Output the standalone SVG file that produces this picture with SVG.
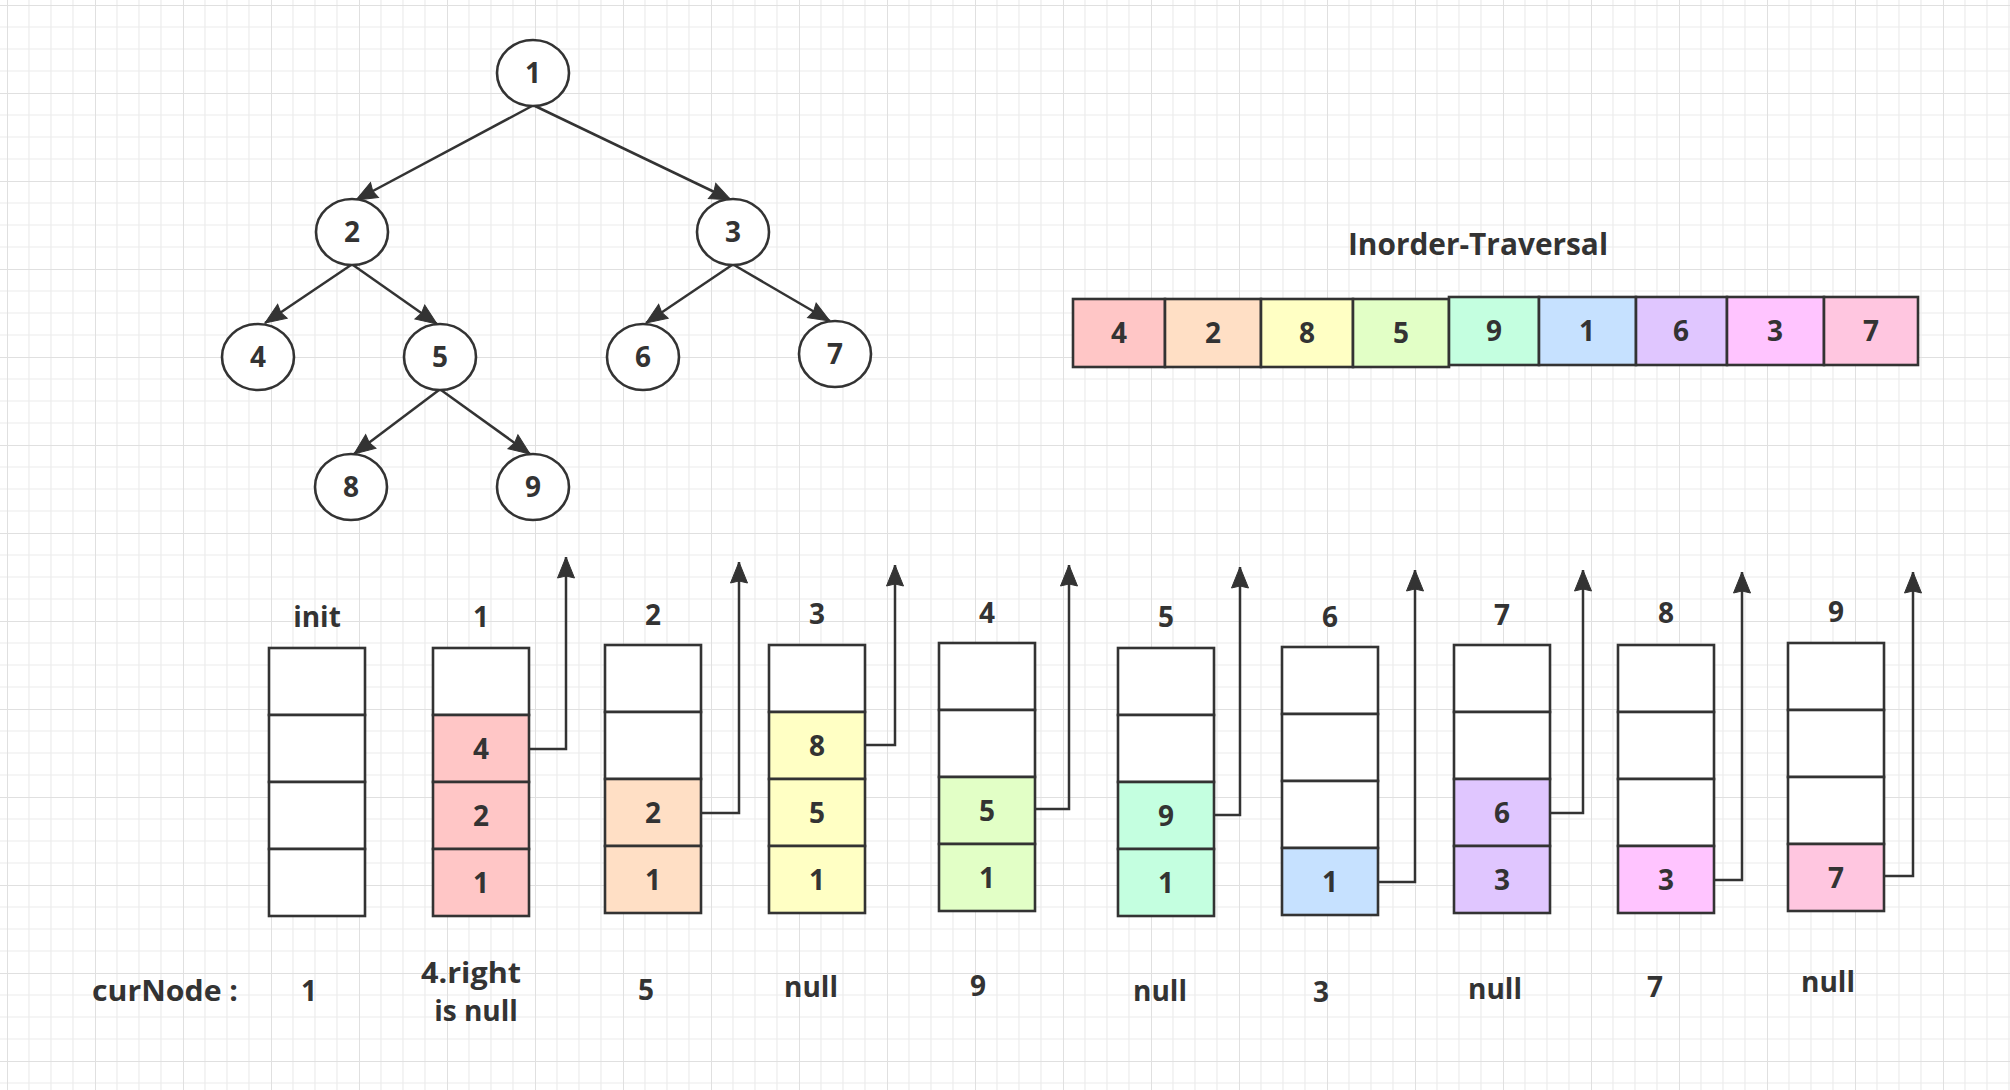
<svg xmlns="http://www.w3.org/2000/svg" width="2010" height="1090" viewBox="0 0 2010 1090">
<style>
.t{font-family:"Open Sans","Noto Sans","Liberation Sans",sans-serif;font-weight:700;font-size:28px;fill:#333;text-anchor:middle}
.ttl{font-size:30px}
.node{fill:#fff;stroke:#333;stroke-width:2.6}
.cell{stroke:#333;stroke-width:2.6}
.edge{fill:none;stroke:#333;stroke-width:2.5}
.w{fill:#fff}.r{fill:#ffc6c6}.p{fill:#ffdfc5}.y{fill:#ffffc4}.g{fill:#e2ffc6}.m{fill:#c4ffe0}.b{fill:#c6e1ff}.l{fill:#e0c6ff}.k{fill:#ffc4ff}.n{fill:#ffc6e0}
</style>
<defs>
<pattern id="grid" x="7" y="5" width="88" height="88" patternUnits="userSpaceOnUse">
<path d="M22,0V88M44,0V88M66,0V88M0,22H88M0,44H88M0,66H88" stroke="#ececec" stroke-width="1.2" fill="none"/>
<path d="M0,0V88M0,0H88" stroke="#e0e0e0" stroke-width="2" fill="none"/>
</pattern>
<marker id="arr" markerUnits="userSpaceOnUse" markerWidth="26" markerHeight="22" refX="21" refY="9" orient="auto" overflow="visible">
<path d="M0,0.5 L21,9 L0,17.5 L2,9 z" fill="#333" stroke="#333" stroke-width="1" stroke-linejoin="miter"/>
</marker>
</defs>
<rect width="2010" height="1090" fill="#fff"/>
<rect width="2010" height="1090" fill="url(#grid)"/>

<g id="connectors">
<line class="edge" x1="532" y1="106" x2="356" y2="200" marker-end="url(#arr)"/>
<line class="edge" x1="535" y1="106" x2="731" y2="200" marker-end="url(#arr)"/>
<line class="edge" x1="351" y1="265" x2="265" y2="323" marker-end="url(#arr)"/>
<line class="edge" x1="353" y1="265" x2="437" y2="324" marker-end="url(#arr)"/>
<line class="edge" x1="732" y1="265" x2="646" y2="323" marker-end="url(#arr)"/>
<line class="edge" x1="734" y1="265" x2="830" y2="321" marker-end="url(#arr)"/>
<line class="edge" x1="439" y1="390" x2="354" y2="454" marker-end="url(#arr)"/>
<line class="edge" x1="441" y1="390" x2="530" y2="454" marker-end="url(#arr)"/>
<polyline class="edge" points="529,749 566,749 566,557" marker-end="url(#arr)"/>
<polyline class="edge" points="701,813 739,813 739,562" marker-end="url(#arr)"/>
<polyline class="edge" points="865,745 895,745 895,565" marker-end="url(#arr)"/>
<polyline class="edge" points="1035,809 1069,809 1069,565" marker-end="url(#arr)"/>
<polyline class="edge" points="1214,815 1240,815 1240,567" marker-end="url(#arr)"/>
<polyline class="edge" points="1378,882 1415,882 1415,570" marker-end="url(#arr)"/>
<polyline class="edge" points="1550,813 1583,813 1583,570" marker-end="url(#arr)"/>
<polyline class="edge" points="1714,880 1742,880 1742,572" marker-end="url(#arr)"/>
<polyline class="edge" points="1884,876 1913,876 1913,572" marker-end="url(#arr)"/>
</g>

<g id="tree-node-1"><ellipse class="node" cx="533" cy="73" rx="36" ry="33"/><text class="t" x="533" y="83">1</text></g>
<g id="tree-node-2"><ellipse class="node" cx="352" cy="232" rx="36" ry="33"/><text class="t" x="352" y="242">2</text></g>
<g id="tree-node-3"><ellipse class="node" cx="733" cy="232" rx="36" ry="33"/><text class="t" x="733" y="242">3</text></g>
<g id="tree-node-4"><ellipse class="node" cx="258" cy="357" rx="36" ry="33"/><text class="t" x="258" y="367">4</text></g>
<g id="tree-node-5"><ellipse class="node" cx="440" cy="357" rx="36" ry="33"/><text class="t" x="440" y="367">5</text></g>
<g id="tree-node-6"><ellipse class="node" cx="643" cy="357" rx="36" ry="33"/><text class="t" x="643" y="367">6</text></g>
<g id="tree-node-7"><ellipse class="node" cx="835" cy="354" rx="36" ry="33"/><text class="t" x="835" y="364">7</text></g>
<g id="tree-node-8"><ellipse class="node" cx="351" cy="487" rx="36" ry="33"/><text class="t" x="351" y="497">8</text></g>
<g id="tree-node-9"><ellipse class="node" cx="533" cy="487" rx="36" ry="33"/><text class="t" x="533" y="497">9</text></g>

<g id="inorder">
<text class="t ttl" x="1478" y="255" textLength="260" lengthAdjust="spacingAndGlyphs">Inorder-Traversal</text>
<rect class="cell r" x="1073" y="299" width="92" height="68"/><text class="t" x="1119" y="343">4</text>
<rect class="cell p" x="1165" y="299" width="96" height="68"/><text class="t" x="1213" y="343">2</text>
<rect class="cell y" x="1261" y="299" width="92" height="68"/><text class="t" x="1307" y="343">8</text>
<rect class="cell g" x="1353" y="299" width="96" height="68"/><text class="t" x="1401" y="343">5</text>
<rect class="cell m" x="1449" y="297" width="90" height="68"/><text class="t" x="1494" y="341">9</text>
<rect class="cell b" x="1539" y="297" width="97" height="68"/><text class="t" x="1587" y="341">1</text>
<rect class="cell l" x="1636" y="297" width="91" height="68"/><text class="t" x="1681" y="341">6</text>
<rect class="cell k" x="1727" y="297" width="97" height="68"/><text class="t" x="1775" y="341">3</text>
<rect class="cell n" x="1824" y="297" width="94" height="68"/><text class="t" x="1871" y="341">7</text>
</g>

<g id="stack-init">
<text class="t" x="317" y="627">init</text>
<rect class="cell w" x="269" y="648" width="96" height="67"/>
<rect class="cell w" x="269" y="715" width="96" height="67"/>
<rect class="cell w" x="269" y="782" width="96" height="67"/>
<rect class="cell w" x="269" y="849" width="96" height="67"/>
</g>
<g id="stack-1">
<text class="t" x="481" y="627">1</text>
<rect class="cell w" x="433" y="648" width="96" height="67"/>
<rect class="cell r" x="433" y="715" width="96" height="67"/><text class="t" x="481" y="759">4</text>
<rect class="cell r" x="433" y="782" width="96" height="67"/><text class="t" x="481" y="826">2</text>
<rect class="cell r" x="433" y="849" width="96" height="67"/><text class="t" x="481" y="893">1</text>
</g>
<g id="stack-2">
<text class="t" x="653" y="625">2</text>
<rect class="cell w" x="605" y="645" width="96" height="67"/>
<rect class="cell w" x="605" y="712" width="96" height="67"/>
<rect class="cell p" x="605" y="779" width="96" height="67"/><text class="t" x="653" y="823">2</text>
<rect class="cell p" x="605" y="846" width="96" height="67"/><text class="t" x="653" y="890">1</text>
</g>
<g id="stack-3">
<text class="t" x="817" y="624">3</text>
<rect class="cell w" x="769" y="645" width="96" height="67"/>
<rect class="cell y" x="769" y="712" width="96" height="67"/><text class="t" x="817" y="756">8</text>
<rect class="cell y" x="769" y="779" width="96" height="67"/><text class="t" x="817" y="823">5</text>
<rect class="cell y" x="769" y="846" width="96" height="67"/><text class="t" x="817" y="890">1</text>
</g>
<g id="stack-4">
<text class="t" x="987" y="623">4</text>
<rect class="cell w" x="939" y="643" width="96" height="67"/>
<rect class="cell w" x="939" y="710" width="96" height="67"/>
<rect class="cell g" x="939" y="777" width="96" height="67"/><text class="t" x="987" y="821">5</text>
<rect class="cell g" x="939" y="844" width="96" height="67"/><text class="t" x="987" y="888">1</text>
</g>
<g id="stack-5">
<text class="t" x="1166" y="627">5</text>
<rect class="cell w" x="1118" y="648" width="96" height="67"/>
<rect class="cell w" x="1118" y="715" width="96" height="67"/>
<rect class="cell m" x="1118" y="782" width="96" height="67"/><text class="t" x="1166" y="826">9</text>
<rect class="cell m" x="1118" y="849" width="96" height="67"/><text class="t" x="1166" y="893">1</text>
</g>
<g id="stack-6">
<text class="t" x="1330" y="627">6</text>
<rect class="cell w" x="1282" y="647" width="96" height="67"/>
<rect class="cell w" x="1282" y="714" width="96" height="67"/>
<rect class="cell w" x="1282" y="781" width="96" height="67"/>
<rect class="cell b" x="1282" y="848" width="96" height="67"/><text class="t" x="1330" y="892">1</text>
</g>
<g id="stack-7">
<text class="t" x="1502" y="625">7</text>
<rect class="cell w" x="1454" y="645" width="96" height="67"/>
<rect class="cell w" x="1454" y="712" width="96" height="67"/>
<rect class="cell l" x="1454" y="779" width="96" height="67"/><text class="t" x="1502" y="823">6</text>
<rect class="cell l" x="1454" y="846" width="96" height="67"/><text class="t" x="1502" y="890">3</text>
</g>
<g id="stack-8">
<text class="t" x="1666" y="623">8</text>
<rect class="cell w" x="1618" y="645" width="96" height="67"/>
<rect class="cell w" x="1618" y="712" width="96" height="67"/>
<rect class="cell w" x="1618" y="779" width="96" height="67"/>
<rect class="cell k" x="1618" y="846" width="96" height="67"/><text class="t" x="1666" y="890">3</text>
</g>
<g id="stack-9">
<text class="t" x="1836" y="622">9</text>
<rect class="cell w" x="1788" y="643" width="96" height="67"/>
<rect class="cell w" x="1788" y="710" width="96" height="67"/>
<rect class="cell w" x="1788" y="777" width="96" height="67"/>
<rect class="cell n" x="1788" y="844" width="96" height="67"/><text class="t" x="1836" y="888">7</text>
</g>

<g id="curnode-row">
<text class="t" x="165" y="1001" textLength="146" lengthAdjust="spacingAndGlyphs">curNode :</text>
<text class="t" x="309" y="1001">1</text>
<text class="t" x="471" y="983" textLength="100" lengthAdjust="spacingAndGlyphs">4.right</text>
<text class="t" x="476" y="1021">is null</text>
<text class="t" x="646" y="1000">5</text>
<text class="t" x="811" y="997">null</text>
<text class="t" x="978" y="996">9</text>
<text class="t" x="1160" y="1001">null</text>
<text class="t" x="1321" y="1002">3</text>
<text class="t" x="1495" y="999">null</text>
<text class="t" x="1655" y="997">7</text>
<text class="t" x="1828" y="992">null</text>
</g>
</svg>
